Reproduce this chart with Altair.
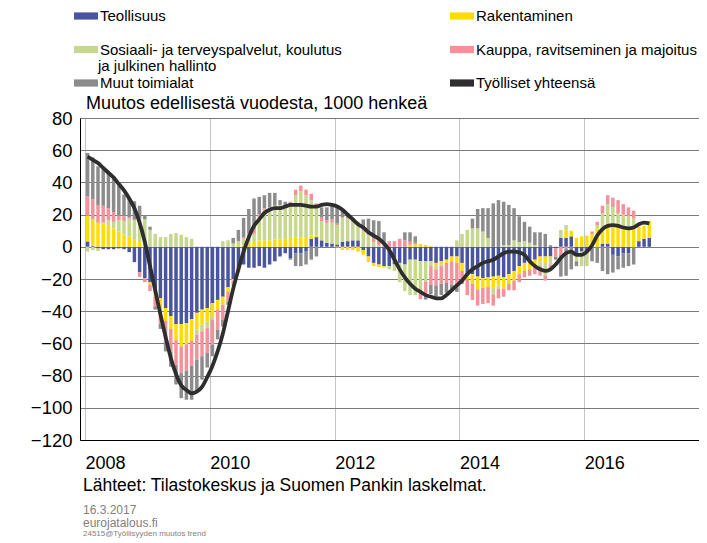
import altair as alt
import pandas as pd

# ---- data (1000 persons, change from previous year), monthly Jan 2008 .. Jan 2017
START_YEAR = 2008
categories = [
    "Teollisuus",
    "Rakentaminen",
    "Sosiaali- ja terveyspalvelut, koulutus ja julkinen hallinto",
    "Kauppa, ravitseminen ja majoitus",
    "Muut toimialat",
]
line_name = "Työlliset yhteensä"
colors = ["#4a55a2", "#ffdd00", "#c6d78e", "#f3929b", "#8c8c8c"]
line_color = "#2e2e2e"
# legend reading order (filled column by column: left column, then right column)
legend_order = [0, 2, 4, 1, 3, 5]

teollisuus = [
    3.3, 0.5, -1, -1.5, -1.5, -1.5, -1, -1.5, -3.3, -9.5, -15.7, -19.5,
    -22, -26, -32, -38, -43, -48, -48, -47.5, -45, -41, -39, -38,
    -35, -33, -31, -25, -20, -14, -11, -13, -13, -12, -13, -11,
    -9, -6, -4, -7, -4, -4, -3, 5, 6, 4, 2.5, 2,
    1.5, 3, 3.5, 4, 4, -2, -6, -10, -11, -12, -12, -11,
    -10, -11, -8, -8, -9, -9, -9, -10, -9, -8, -6, -6,
    -10, -17, -17, -18.5, -19.5, -19, -18.5, -18, -19, -17, -15, -12,
    -10, -9, -8, -6, -6, -6, -1, 5.5, 5.5, 6.5, -4, -3,
    -3, 0, 0, 2, 2, -5, -6, -4, -4, 0, 3.5, 5,
    5.5,
]
rakentaminen = [
    16, 16.5, 15, 14.5, 13.5, 11.5, 9.5, 7.5, 6.5, 4.3, 3, 1,
    -1.5, -5, -8, -8, -8, -10, -14, -13, -13.5, -10.5, -9.5, -8.5,
    -8.5, -6, -5, -3, -1, 0.5, 1, 2.5, 3, 4, 4, 4,
    4.5, 4.5, 5, 5.5, 6, 6, 6, 2, 1, 0, 0, 0,
    -0.5, -2, -2, -2, -3, -3, -3.5, -2, -1.5, -1, 0, 0,
    0, 0, 1.2, 1.5, 1.7, 1.2, 0.5, -2, -2, -2, -3, -4,
    -5, -3, -6, -8, -6, -6, -7, -6, -7, -6, -6, -5,
    -5, -5, -4, -3, -4, -1, 0, 0, 5, 3.5, 5.5, 6.5,
    7, 8, 11.5, 10, 11.5, 12, 12, 11, 11, 11.5, 9, 8,
    10.5,
]
sosiaali = [
    -3, -2, -1.5, 0.5, 3, 4, 7, 8.5, 11, 12.5, 14.5, 16,
    10.5, 8, 6, 6, 8, 8.5, 7.5, 6, 5, -3, -4, -4,
    -2, 0, 3.5, 4, 2, 3, 4, 3, 5, 14, 19, 20,
    21, 21.5, 19, 21.5, 26, 28.5, 26, 22, 18, 12, 12, 13,
    12, 15, 14, 11, 11, 10, 7, 3, 1, 0, -2, -4,
    -12, -16.5, -22, -22, -18.5, -12.5, -3, -2, -1, 0, 0, 4,
    8, 10.5, 11.5, 11.5, 9.5, 5.5, -4, -2, 1, 1, 4, 3,
    3.5, 2.5, 1, -3, -8, -4, 0, 5, 3, 0, -5, -9,
    -9, 0, 2, 9, 13, 12.5, 9, 9, 8, 6, 0, 0,
    0,
]
kauppa = [
    12, 12.5, 11, 10.5, 7.5, 6, 3, 3, 1, 0, -3, -2.5,
    -4, -6, -8, -13, -14.5, -15.5, -16.5, -16.5, -15.5, -15.5, -15.5, -15.5,
    -15.5, -12.5, -9.5, -6, -3, -1.5, 1, 3, 3, 2, 1, 0.5,
    0, 0, 1, 1, 3.5, 3.5, 3.5, 4, 2, 2.5, 2, 2,
    1, 0.5, 0.5, 2, 0.5, 1, 1.5, 2.5, 3, 3, 3.5, 3.5,
    5, 4, 2, 1, -5, -8.3, -11.5, -10, -11, -12.5, -14.5, -15.5,
    -6, -10, -10, -10, -10, -10, -7, -6, -5, -4, -6, -5,
    -4, -4, -5, -6, -3, -2, -5, -5, -1, 0, 0, 0,
    0, 1.5, 2, 4.5, 5.5, 6, 8, 6.5, 5.5, 5, 0, 0,
    0,
]
muut = [
    27, 26, 24, 24, 23, 22.5, 18.5, 13.5, 12, 11.5, 8, 2.5,
    2, -2, -3, -6, -9, -12, -15.5, -18, -21, -20, -14.5, -9,
    -7, -6, -4, -2, 3.5, 7, 12, 15, 19, 11, 8, 9,
    8, 3, 3, -1, -8, -8, -8, -8, -6, 6, 8, 8,
    10, 5, 3, 1, 0, 6, 9, 11, 12, 6, 0, 0,
    0, 5, 5.8, 4, 0, -3, -6, -7, -7, -6, -4, -2.5,
    -2, 0, 6, 12, 14.5, 18.5, 27, 29, 27, 25, 20, 16,
    12, 10, 8, 9, 8, 1, -2, -13.5, -17, -14, -3, 0,
    0, -9, -10, -15, -17, -11, -8, -9, -8, -11, 0, 0,
    0,
]
yhteensa = [
    56, 54, 52, 49, 46, 43, 39, 35, 30, 24, 15, 3,
    -12, -27, -42, -56, -69, -79, -86, -89, -91, -90, -87, -81,
    -74, -65, -54, -40, -26, -14, -3, 6, 13, 17, 21, 23,
    24, 24, 25, 26, 26, 26, 25.5, 25, 25, 26, 26.5, 26,
    25, 23, 20, 17, 14, 12, 9, 7, 5, 2, -2, -8,
    -14, -19, -23, -26, -28, -30, -31, -32, -32, -30, -27, -24,
    -21, -17, -14, -12, -10, -9, -8, -6, -4, -3, -3, -3.5,
    -5, -9, -12, -14, -15, -14, -11, -7, -4, -3, -5, -5,
    -3, 1, 7, 11, 13, 13.5, 13, 12, 11.5, 12, 14, 15,
    14.5,
]
year_tick_months = [0, 24, 48, 72, 96]
y_ticks = [-120, -100, -80, -60, -40, -20, 0, 20, 40, 60, 80]

title_text = "Muutos edellisestä vuodesta, 1000 henkeä"
legend_extra = "ja julkinen hallinto"
source_text = "Lähteet: Tilastokeskus ja Suomen Pankin laskelmat."
date_text = "16.3.2017"
site_text = "eurojatalous.fi"
code_text = "24515@Työllisyyden muutos trend"

FONT = "Liberation Sans"

# ---- tables
series = [teollisuus, rakentaminen, sosiaali, kauppa, muut]
rows = []
for k, (name, vals) in enumerate(zip(categories, series)):
    for i, v in enumerate(vals):
        rows.append({"m": i + 0.5, "sarja": name, "arvo": v, "jarj": k})
bar_df = pd.DataFrame(rows)
line_df = pd.DataFrame({
    "m": [i + 0.5 for i in range(len(yhteensa))],
    "yht": yhteensa,
    "sarja": [line_name] * len(yhteensa),
})

all_names = categories + [line_name]
all_colors = colors + [line_color]
dom = [all_names[j] for j in legend_order]
rng = [all_colors[j] for j in legend_order]

W, H = 619, 322
x_scale = alt.Scale(domain=[0, 117.1], nice=False, zero=False)
y_scale = alt.Scale(domain=[-120, 80], nice=False)
color_scale = alt.Scale(domain=dom, range=rng)

x_axis = alt.Axis(
    values=year_tick_months, labelExpr=f"'' + ({START_YEAR} + datum.value / 12)",
    title=None, ticks=False, grid=True, gridColor="#c4c4c4", gridWidth=1,
    domainColor="#000000", labelAlign="left", labelBaseline="top",
    labelPadding=14, labelFontSize=18, labelFont=FONT, labelColor="#000000",
    labelFlush=False, labelOverlap=False,
)
y_axis = alt.Axis(
    values=y_ticks, title=None, ticks=False, grid=True, gridColor="#7a7a7a",
    gridWidth=1, domainColor="#000000", labelPadding=8, labelFontSize=18.5,
    labelFont=FONT, labelColor="#000000",
)

legend = alt.Legend(
    title=None, orient="none", legendX=-6, legendY=-114, columns=2,
    columnPadding=108, rowPadding=13.5, padding=0,
    symbolType="M-1,-0.3H1V0.3H-1Z", symbolSize=576, symbolStrokeWidth=0,
    labelFontSize=15, labelFont=FONT, labelColor="#000000", labelLimit=400,
    labelOffset=2,
    labelExpr=f"replace(datum.label, ' {legend_extra}', '')",
)

bars = alt.Chart(bar_df).mark_bar(size=3.5).encode(
    x=alt.X("m:Q", scale=x_scale, axis=x_axis),
    y=alt.Y("arvo:Q", stack="zero", scale=y_scale, axis=y_axis),
    color=alt.Color("sarja:N", scale=color_scale, legend=legend),
    order=alt.Order("jarj:Q", sort="ascending"),
)

line = alt.Chart(line_df).mark_line(strokeWidth=3.8, interpolate="monotone").encode(
    x=alt.X("m:Q", scale=x_scale, axis=x_axis),
    y=alt.Y("yht:Q", scale=y_scale, axis=y_axis),
    color=alt.Color("sarja:N", scale=color_scale, legend=None),
)


def label(text, x, y, size, color="#000000"):
    return alt.Chart(pd.DataFrame({"t": [text]})).mark_text(
        align="left", baseline="middle", font=FONT, fontSize=size, color=color
    ).encode(text="t:N", x=alt.value(x), y=alt.value(y))


texts = [
    label(title_text, 6, -14, 18),
    label(legend_extra, 18, -52, 15),
    label(source_text, 3, 368, 17.5),
    label(date_text, 3, 392, 12, "#808080"),
    label(site_text, 3, 405, 12, "#808080"),
    label(code_text, 3, 416, 8, "#808080"),
]

chart = alt.layer(bars, line, *texts).properties(
    width=W, height=H,
    autosize=alt.AutoSizeParams(type="none"),
    padding={"left": 72, "top": 110, "right": 0, "bottom": 99},
).configure_view(stroke=None)

chart.save("out.html", embed_options={"renderer": "svg", "actions": False})
